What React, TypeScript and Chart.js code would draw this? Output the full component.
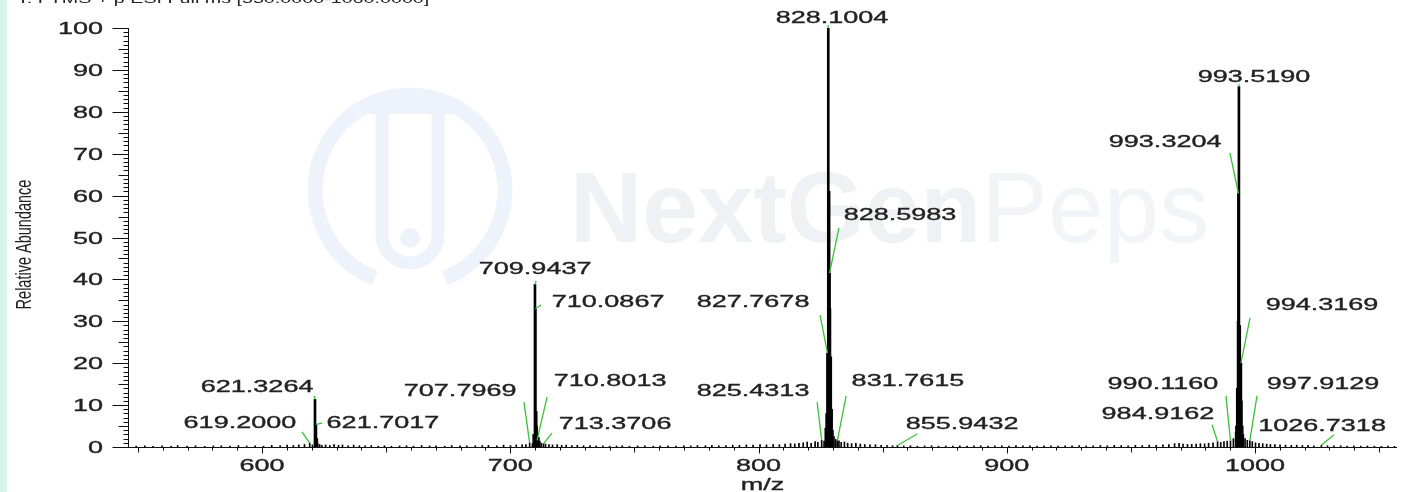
import { useEffect, useRef } from 'react';
import { Chart, registerables } from 'chart.js';

Chart.register(...registerables);

// ---------- data ----------
const titleText = 'T: FTMS + p ESI Full ms [550.0000-1060.0000]';
const xAxisTitle = 'm/z';
const yAxisTitle = 'Relative Abundance';
const xTickLabels = [600, 700, 800, 900, 1000];
const yTickLabels = [0, 10, 20, 30, 40, 50, 60, 70, 80, 90, 100];
const xRange = [546, 1057.2];
const yRange = [0, 100];

// main isotope-cluster peaks (m/z, relative abundance %)
const peakMz = [
  621.3264, 621.7017, 622.07,
  709.43, 709.9437, 710.0867, 710.44, 710.59, 711.3,
  827.10, 827.4334, 827.7678, 828.1004, 828.4339, 828.5983, 828.7669, 829.10, 829.44, 829.77,
  992.52, 992.85, 993.1857, 993.3204, 993.5190, 993.852, 994.18, 994.3169, 994.52, 994.85,
];
const peakAb = [
  11.4, 5.4, 2.0,
  3.0, 38.8, 33.0, 8.5, 5.0, 2.3,
  4.5, 8.0, 22.4, 100, 61.0, 41.5, 33.0, 21.5, 9.0, 4.0,
  5.0, 14.0, 30.0, 60.5, 86.0, 29.0, 20.5, 20.0, 11.0, 5.0,
];

// baseline noise / minor peaks
const noiseMz = [
  549.3, 552.8, 556.1, 559.7, 563.4, 566.0, 569.8, 573.2, 576.9, 580.4, 583.6, 587.1, 590.5, 593.8,
  597.2, 600.6, 603.9, 607.3, 610.1, 612.6, 614.8, 617.1, 619.2, 620.3, 622.45, 623.2, 624.1, 625.6,
  627.3, 629.0, 630.8, 632.4, 634.7, 636.9, 639.2, 641.5, 644.0, 646.8, 649.3, 652.1, 655.4, 658.2,
  661.0, 664.3, 667.5, 670.1, 673.6, 676.4, 679.8, 682.5, 685.9, 688.7, 691.2, 694.6, 697.3, 700.1,
  702.4, 704.8, 706.3, 707.7969, 708.9, 710.8013, 711.9, 712.5, 713.3706, 714.2, 715.6, 717.0, 718.9,
  720.7, 722.5, 724.8, 727.0, 729.5, 732.1, 734.6, 737.3, 740.0, 742.8, 745.1, 748.0, 751.3, 754.2,
  757.6, 760.4, 763.5, 766.8, 769.9, 772.7, 775.4, 778.6, 781.2, 784.0, 786.9, 789.6, 792.3, 795.1,
  797.8, 800.6, 803.2, 805.9, 808.4, 810.7, 812.9, 814.6, 816.3, 818.0, 819.6, 821.2, 822.8, 823.9,
  825.4313, 826.4, 830.4, 831.1, 831.7615, 832.4, 833.3, 834.6, 835.9, 837.5, 839.2, 841.0, 842.8,
  844.9, 847.1, 849.4, 851.8, 854.0, 855.9432, 858.5, 861.2, 864.0, 866.9, 869.7, 872.5, 875.4, 878.3,
  881.1, 884.0, 886.8, 889.5, 892.4, 895.2, 898.0, 900.9, 903.7, 906.5, 909.3, 912.2, 915.0, 917.8,
  920.7, 923.5, 926.3, 929.2, 932.0, 934.8, 937.7, 940.5, 943.3, 946.1, 948.9, 951.8, 954.6, 957.4,
  960.2, 962.9, 965.3, 967.6, 969.4, 971.0, 972.8, 974.5, 976.3, 978.0, 979.7, 981.3, 983.1, 984.9162,
  986.2, 987.5, 988.8, 990.1160, 991.3, 992.2, 995.3, 996.0, 996.9, 997.9129, 998.9, 1000.2, 1001.6,
  1003.1, 1004.7, 1006.2, 1008.0, 1010.1, 1012.3, 1014.6, 1016.8, 1019.1, 1021.4, 1023.7, 1026.7318,
  1029.2, 1031.8, 1034.5, 1037.1, 1039.8, 1042.6, 1045.3, 1048.1, 1050.9, 1053.6, 1056.2,
];
const noiseAb = [
  0.2, 0.3, 0.15, 0.25, 0.2, 0.35, 0.2, 0.3, 0.15, 0.25, 0.3, 0.2, 0.35, 0.25,
  0.3, 0.2, 0.4, 0.3, 0.45, 0.35, 0.5, 0.6, 0.9, 0.5, 0.8, 0.6, 0.4, 0.5,
  0.35, 0.6, 0.4, 0.5, 0.3, 0.45, 0.3, 0.25, 0.35, 0.2, 0.3, 0.15, 0.25, 0.3,
  0.2, 0.35, 0.25, 0.3, 0.2, 0.35, 0.3, 0.25, 0.3, 0.35, 0.4, 0.3, 0.45, 0.35,
  0.5, 0.55, 0.6, 1.0, 0.8, 1.6, 1.4, 0.9, 0.8, 0.7, 0.6, 0.5, 0.55,
  0.4, 0.45, 0.35, 0.4, 0.3, 0.35, 0.25, 0.3, 0.2, 0.25, 0.3, 0.2, 0.25, 0.3,
  0.2, 0.25, 0.3, 0.2, 0.3, 0.25, 0.35, 0.3, 0.4, 0.3, 0.35, 0.45, 0.4, 0.5,
  0.45, 0.55, 0.5, 0.6, 0.55, 0.7, 0.8, 0.75, 0.9, 1.0, 1.2, 0.9, 1.3, 1.1,
  1.6, 1.4, 2.5, 1.8, 1.5, 1.5, 1.1, 1.2, 0.9, 0.8, 0.9, 0.7, 0.6,
  0.5, 0.55, 0.4, 0.35, 0.3, 0.35, 0.25, 0.3, 0.2, 0.25, 0.3, 0.2, 0.25, 0.2,
  0.3, 0.2, 0.25, 0.3, 0.2, 0.25, 0.3, 0.2, 0.35, 0.25, 0.3, 0.2, 0.25, 0.3,
  0.2, 0.25, 0.3, 0.35, 0.25, 0.3, 0.35, 0.3, 0.4, 0.35, 0.3, 0.4, 0.35, 0.45,
  0.4, 0.5, 0.6, 0.8, 0.9, 0.7, 0.6, 0.65, 0.7, 0.8, 0.75, 0.9, 1.0, 1.3,
  1.1, 1.3, 1.4, 1.5, 2.0, 3.5, 3.0, 2.0, 1.6, 1.5, 1.3, 1.0, 0.9,
  0.8, 0.7, 0.6, 0.55, 0.5, 0.45, 0.4, 0.45, 0.35, 0.4, 0.3, 0.4,
  0.3, 0.25, 0.3, 0.2, 0.25, 0.2, 0.25, 0.2, 0.15, 0.2, 0.15,
];

// annotated peaks, and where their labels / leader lines sit (data units)
const labeledMz = [
  619.2000, 621.3264, 621.7017, 707.7969, 709.9437, 710.0867, 710.8013, 713.3706, 825.4313, 827.7678,
  828.1004, 828.5983, 831.7615, 855.9432, 984.9162, 990.1160, 993.3204, 993.5190, 994.3169, 997.9129, 1026.7318,
];
const labelAtMz = [
  591.1, 598.0, 648.7, 679.8, 710.0, 739.4, 740.2, 742.2, 797.8, 797.8,
  829.6, 857.0, 860.2, 882.0, 960.9, 962.9, 963.8, 999.6, 1027.0, 1027.4, 1027.0,
];
const labelAtAb = [
  6.0, 14.6, 6.0, 13.6, 42.7, 34.8, 16.0, 5.7, 13.6, 34.8,
  102.6, 55.6, 16.0, 5.7, 8.1, 15.3, 73.0, 88.5, 34.1, 15.3, 5.3,
];
const leaderFromMz = [
  616.1, 621.0, 624.2, 705.5, 710.4, 712.4, 714.8, 716.8, 823.6, 824.8,
  828.0, 832.4, 835.3, 863.9, 982.7, 988.3, 989.9, 993.6, 998.0, 1000.8, 1031.8,
];
const leaderFromAb = [
  3.6, 12.2, 5.7, 10.7, 39.6, 33.9, 11.9, 3.3, 10.7, 31.5,
  100.7, 52.3, 12.2, 3.1, 5.3, 12.2, 70.2, 86.6, 30.8, 12.2, 2.9,
];

// ---------- drawing helpers ----------
const FONT = '"Liberation Sans", Arial, sans-serif';
const SX = 1.59;
const TEXT = '#222222';

function stretchedText(ctx: CanvasRenderingContext2D, text: string, x: number, cy: number, size: number, align: CanvasTextAlign) {
  ctx.save();
  ctx.translate(x, cy + size * 0.358);
  ctx.scale(SX, 1);
  ctx.font = `${size}px ${FONT}`;
  ctx.textAlign = align;
  ctx.textBaseline = 'alphabetic';
  ctx.fillStyle = TEXT;
  ctx.strokeStyle = TEXT;
  ctx.lineWidth = 0.35;
  ctx.fillText(text, 0, 0);
  ctx.strokeText(text, 0, 0);
  ctx.restore();
}

function heightOf(mz: number): number {
  let i = peakMz.indexOf(mz);
  if (i >= 0) return peakAb[i];
  i = noiseMz.indexOf(mz);
  return i >= 0 ? noiseAb[i] : 0;
}

const watermarkPlugin = {
  id: 'watermark',
  beforeDatasetsDraw(chart: any) {
    const ctx = chart.ctx as CanvasRenderingContext2D;
    ctx.save();
    const tint = '#eef2fa';
    ctx.strokeStyle = tint;
    ctx.lineWidth = 15;
    ctx.beginPath();
    ctx.arc(410, 190, 95, Math.PI * 0.62, Math.PI * 2.38);
    ctx.stroke();
    ctx.lineWidth = 13;
    ctx.beginPath();
    ctx.moveTo(382, 110);
    ctx.lineTo(382, 235);
    ctx.arc(410, 235, 28, Math.PI, 0, true);
    ctx.lineTo(438, 110);
    ctx.stroke();
    ctx.fillStyle = tint;
    ctx.fillRect(368, 100, 84, 14);
    ctx.beginPath();
    ctx.arc(410, 238, 10, 0, Math.PI * 2);
    ctx.fill();
    ctx.textBaseline = 'alphabetic';
    ctx.textAlign = 'left';
    ctx.font = `bold 100px ${FONT}`;
    ctx.fillStyle = '#f0f1f4';
    ctx.fillText('NextGen', 570, 242);
    const w = ctx.measureText('NextGen').width;
    ctx.font = `100px ${FONT}`;
    ctx.fillStyle = '#f3f4f8';
    ctx.fillText('Peps', 570 + w, 242);
    ctx.restore();
  },
};

const axesPlugin = {
  id: 'msAxes',
  afterDraw(chart: any) {
    const ctx = chart.ctx as CanvasRenderingContext2D;
    const xs = chart.scales.x;
    const ys = chart.scales.y;
    const { left, right, top, bottom } = chart.chartArea;
    const L = Math.round(left) + 0.5;
    const B = Math.round(bottom) + 0.5;
    ctx.save();
    ctx.strokeStyle = '#111';
    ctx.lineWidth = 1;
    ctx.beginPath();
    ctx.moveTo(L, Math.round(top));
    ctx.lineTo(L, B);
    ctx.moveTo(L - 1, B);
    ctx.lineTo(Math.round(right), B);
    for (let v = yRange[0]; v <= yRange[1]; v += 1) {
      const y = Math.round(ys.getPixelForValue(v)) + 0.5;
      const len = v % 10 === 0 ? 16 : v % 5 === 0 ? 10 : 5;
      ctx.moveTo(L - len, y);
      ctx.lineTo(L, y);
    }
    const first = Math.ceil(xRange[0] / 10) * 10;
    for (let v = first; v <= xRange[1]; v += 10) {
      const x = Math.round(xs.getPixelForValue(v)) + 0.5;
      const len = v % 100 === 0 ? 6 : v % 50 === 0 ? 5 : 3;
      ctx.moveTo(x, B);
      ctx.lineTo(x, B + len);
    }
    ctx.stroke();

    yTickLabels.forEach((v) => stretchedText(ctx, String(v), 103, ys.getPixelForValue(v), 17, 'right'));
    xTickLabels.forEach((v) => stretchedText(ctx, String(v), xs.getPixelForValue(v), 465, 17, 'center'));
    stretchedText(ctx, xAxisTitle, (left + right) / 2, 484, 17, 'center');

    ctx.save();
    ctx.translate(25, (top + bottom) / 2 + 7);
    ctx.rotate(-Math.PI / 2);
    ctx.scale(1, 1.5);
    ctx.font = `14.5px ${FONT}`;
    ctx.textAlign = 'center';
    ctx.textBaseline = 'middle';
    ctx.fillStyle = TEXT;
    ctx.fillText(yAxisTitle, 0, 0);
    ctx.restore();

    ctx.save();
    ctx.translate(17, 3);
    ctx.scale(SX, 1);
    ctx.font = `12.4px ${FONT}`;
    ctx.textAlign = 'left';
    ctx.textBaseline = 'alphabetic';
    ctx.fillStyle = TEXT;
    ctx.fillText(titleText, 0, 0);
    ctx.restore();

    ctx.strokeStyle = '#3cc03c';
    ctx.lineWidth = 1.3;
    labeledMz.forEach((mz, i) => {
      const px = xs.getPixelForValue(mz);
      const py = ys.getPixelForValue(heightOf(mz));
      ctx.beginPath();
      ctx.moveTo(xs.getPixelForValue(leaderFromMz[i]), ys.getPixelForValue(leaderFromAb[i]));
      ctx.lineTo(px, py);
      ctx.stroke();
    });
    labeledMz.forEach((mz, i) => {
      stretchedText(ctx, mz.toFixed(4), xs.getPixelForValue(labelAtMz[i]), ys.getPixelForValue(labelAtAb[i]), 17, 'center');
    });
    ctx.restore();
  },
};

export default function App() {
  const ref = useRef<HTMLCanvasElement | null>(null);
  useEffect(() => {
    if (!ref.current) return;
    const chart = new Chart(ref.current, {
      type: 'bar',
      data: {
        datasets: [
          {
            label: 'peaks',
            data: peakMz.map((x, i) => ({ x, y: peakAb[i] })),
            backgroundColor: '#000',
            borderWidth: 0,
            barThickness: 2,
            grouped: false,
          } as any,
          {
            label: 'noise',
            data: noiseMz.map((x, i) => ({ x, y: noiseAb[i] })),
            backgroundColor: '#000',
            borderWidth: 0,
            barThickness: 1,
            grouped: false,
          } as any,
        ],
      },
      options: {
        animation: false,
        responsive: false,
        devicePixelRatio: 1,
        layout: { padding: { left: 128, right: 6, top: 28, bottom: 45 } },
        plugins: { legend: { display: false }, tooltip: { enabled: false } },
        scales: {
          x: { type: 'linear', min: xRange[0], max: xRange[1], display: false, offset: false, grid: { offset: false } },
          y: { type: 'linear', min: yRange[0], max: yRange[1], display: false },
        },
      } as any,
      plugins: [watermarkPlugin, axesPlugin],
    });
    return () => chart.destroy();
  }, []);

  return (
    <div
      style={{
        position: 'fixed',
        left: 0,
        top: 0,
        width: 1403,
        height: 492,
        background: 'linear-gradient(to right, #d5f5ea 7px, #ffffff 7px)',
      }}
    >
      <canvas ref={ref} width={1403} height={492} style={{ width: 1403, height: 492, display: 'block' }} />
    </div>
  );
}
